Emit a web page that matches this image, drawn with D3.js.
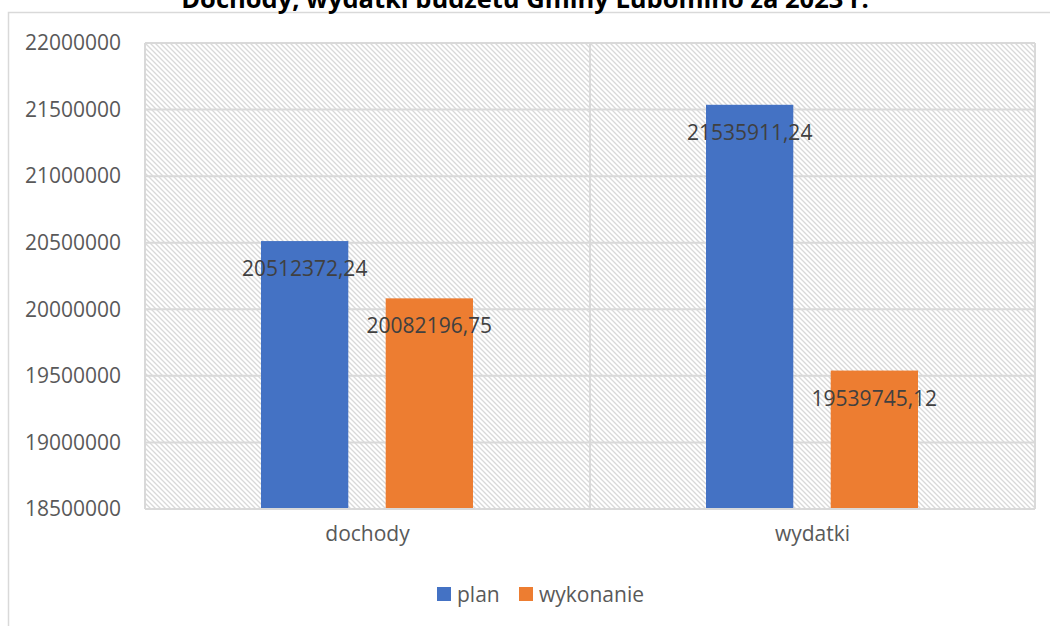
<!DOCTYPE html>
<html>
<head>
<meta charset="utf-8">
<script src="https://cdn.jsdelivr.net/npm/d3@7"></script>
<style>
  body { margin: 0; background: #fff; }
  text { font-family: "Open Sans", sans-serif; }
</style>
</head>
<body>
<div class="chart"></div>
<script>
// data
let categories = ["dochody", "wydatki"];
let seriesNames = ["plan", "wykonanie"];
let planValues = [20512372.24, 21535911.24];
let wykonanieValues = [20082196.75, 19539745.12];
let yTicks = [18500000, 19000000, 19500000, 20000000, 20500000, 21000000, 21500000, 22000000];
let colorrange = ["#4472C4", "#ED7D31"];

let width = 1050, height = 626;
let margin = {top: 43, right: 15, bottom: 117, left: 145};
let plotW = width - margin.left - margin.right;
let plotH = height - margin.top - margin.bottom;

let svg = d3.select(".chart").append("svg")
    .attr("width", width)
    .attr("height", height);

// hatch pattern for the plot area
let defs = svg.append("defs");
let pat = defs.append("pattern")
    .attr("id", "hatch")
    .attr("patternUnits", "userSpaceOnUse")
    .attr("width", 5)
    .attr("height", 5);
pat.append("rect").attr("width", 5).attr("height", 5).attr("fill", "#fff");
pat.append("path")
    .attr("d", "M-1,-1 L6,6 M-1,4 L1,6 M4,-1 L6,1")
    .attr("stroke", "#d9d9d9")
    .attr("stroke-width", 1.3);

// outer chart border
svg.append("path")
    .attr("d", "M8.5," + height + " V12.5 H" + width)
    .attr("fill", "none")
    .attr("stroke", "#d9d9d9")
    .attr("stroke-width", 1.5);

// title (cut off at the top like the original)
svg.append("text")
    .attr("x", 525)
    .attr("y", 8)
    .attr("text-anchor", "middle")
    .attr("font-weight", "bold")
    .attr("font-size", "25.5px")
    .attr("fill", "#000")
    .text("Dochody, wydatki budżetu Gminy Lubomino za 2023 r.");

let g = svg.append("g")
    .attr("transform", "translate(" + margin.left + "," + margin.top + ")");

let x0 = d3.scaleBand()
    .domain(categories)
    .range([0, plotW]);

let x1 = d3.scaleBand()
    .domain(seriesNames)
    .range([116, 116 + 212])
    .paddingInner(0.3);

let y = d3.scaleLinear()
    .domain([yTicks[0], yTicks[yTicks.length - 1]])
    .range([plotH, 0]);

g.append("rect")
    .attr("width", plotW)
    .attr("height", plotH)
    .attr("fill", "url(#hatch)");

// horizontal gridlines
g.selectAll(".grid")
  .data(yTicks)
  .enter().append("line")
    .attr("class", "grid")
    .attr("x1", 0)
    .attr("x2", plotW)
    .attr("y1", d => y(d))
    .attr("y2", d => y(d))
    .attr("stroke", "#d9d9d9")
    .attr("stroke-width", 2);

// vertical gridlines between categories
let vlines = [0, x0.bandwidth(), plotW];
g.selectAll(".vgrid")
  .data(vlines)
  .enter().append("line")
    .attr("x1", d => d).attr("x2", d => d)
    .attr("y1", 0).attr("y2", plotH)
    .attr("stroke", "#d9d9d9")
    .attr("stroke-width", 2);

let rows = categories.map((c, i) => ({cat: c, vals: [
  {key: "plan", value: planValues[i]},
  {key: "wykonanie", value: wykonanieValues[i]}
]}));

let cat = g.selectAll(".cat")
  .data(rows)
  .enter().append("g")
    .attr("transform", d => "translate(" + x0(d.cat) + ",0)");

cat.selectAll("rect")
  .data(d => d.vals)
  .enter().append("rect")
    .attr("x", d => x1(d.key))
    .attr("y", d => y(d.value))
    .attr("width", x1.bandwidth())
    .attr("height", d => plotH - y(d.value))
    .attr("fill", (d, i) => colorrange[i]);

cat.selectAll(".lbl")
  .data(d => d.vals)
  .enter().append("text")
    .attr("class", "lbl")
    .attr("x", d => x1(d.key) + x1.bandwidth() / 2)
    .attr("y", d => y(d.value) + 35)
    .attr("text-anchor", "middle")
    .attr("font-size", "21px")
    .attr("fill", "#404040")
    .text(d => d.value.toFixed(2).replace(".", ","));

// baseline
g.append("line")
    .attr("x1", 0).attr("x2", plotW)
    .attr("y1", plotH).attr("y2", plotH)
    .attr("stroke", "#d9d9d9")
    .attr("stroke-width", 2);

// y axis labels
let yAxis = d3.axisLeft(y).tickValues(yTicks).tickSize(0).tickPadding(24).tickFormat(d3.format("d"));
g.append("g")
    .attr("class", "y axis")
    .call(yAxis)
    .call(s => s.select(".domain").remove())
    .call(s => s.selectAll("text")
        .attr("font-family", "Open Sans")
        .attr("font-size", "21px")
        .attr("fill", "#595959"));

// x axis labels
let xAxis = d3.axisBottom(x0).tickSize(0).tickPadding(17);
g.append("g")
    .attr("class", "x axis")
    .attr("transform", "translate(0," + plotH + ")")
    .call(xAxis)
    .call(s => s.select(".domain").remove())
    .call(s => s.selectAll("text")
        .attr("font-family", "Open Sans")
        .attr("font-size", "21px")
        .attr("fill", "#595959"));

// legend
let legendX = [437, 519];
let legend = svg.selectAll(".legend")
  .data(seriesNames)
  .enter().append("g")
    .attr("transform", (d, i) => "translate(" + legendX[i] + ",587)");
legend.append("rect")
    .attr("width", 14).attr("height", 14)
    .attr("fill", (d, i) => colorrange[i]);
legend.append("text")
    .attr("x", 20).attr("y", 14.5)
    .attr("font-size", "21px")
    .attr("fill", "#595959")
    .text(d => d);
</script>
</body>
</html>
